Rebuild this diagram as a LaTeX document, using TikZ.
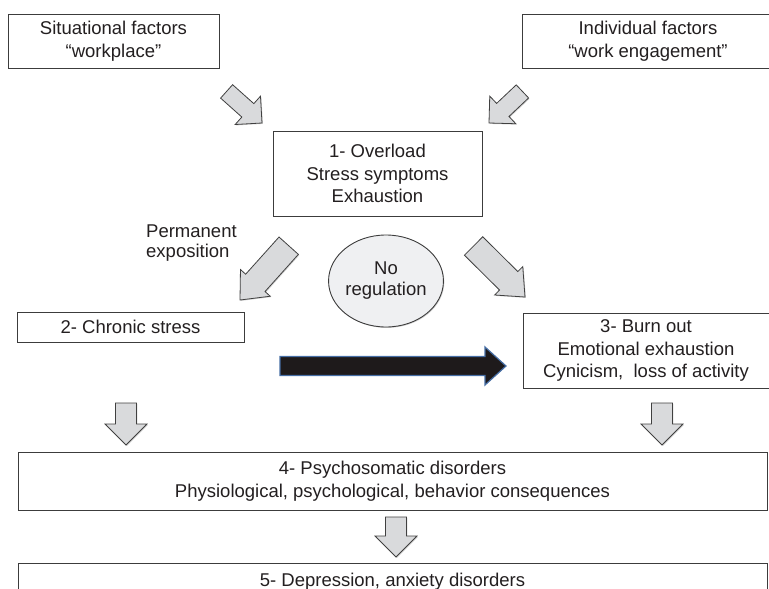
\documentclass[tikz,border=0pt]{standalone}
\usepackage{fontspec}
\setmainfont{Liberation Sans}
\usepackage{tikz}
\usetikzlibrary{calc,shapes.geometric,shadows}
\definecolor{boxline}{RGB}{60,60,60}
\definecolor{textgray}{RGB}{35,31,32}
\definecolor{arrowfill}{RGB}{217,218,220}
\definecolor{ovalfill}{RGB}{239,240,242}
\definecolor{darkarrow}{RGB}{30,26,27}
\definecolor{darkedge}{RGB}{70,110,165}
\tikzset{
  softshadow/.style={drop shadow={shadow xshift=0.9pt, shadow yshift=-0.9pt, opacity=0.3, fill=black!60}},
  stagebox/.style={draw=boxline, line width=0.9pt, fill=white, align=center, text=textgray,
    inner sep=0pt, font=\fontsize{18.5}{22.5}\selectfont, softshadow},
  plainlabel/.style={text=textgray, inner sep=0pt, font=\fontsize{18.5}{20.5}\selectfont},
  grayarrow/.style={draw=black!75, line width=0.8pt, fill=arrowfill, line join=miter, softshadow},
  blackarrow/.style={draw=darkedge, line width=1.2pt, fill=darkarrow, line join=miter},
}
% block arrow: style, tail, tip, half body, half head, head length
\newcommand{\blockarrow}[6]{%
  \coordinate (hb) at ($(#3)!#6!(#2)$);
  \draw[#1] ($(#2)!#4!90:(#3)$) -- ($(hb)!#4!90:(#3)$) -- ($(hb)!#5!90:(#3)$) -- (#3)
    -- ($(hb)!#5!-90:(#3)$) -- ($(hb)!#4!-90:(#3)$) -- ($(#2)!#4!-90:(#3)$) -- cycle;}

\begin{document}
\begin{tikzpicture}[x=1pt,y=-1pt]
  \useasboundingbox (0,0) rectangle (769,589);

  % factors on top
  \node[stagebox, minimum width=211pt, minimum height=54pt] (situ) at (113.5,41) {Situational factors\\“workplace”};
  \node[stagebox, minimum width=252pt, minimum height=54pt] (indiv) at (648,41) {Individual factors\\“work engagement”};

  % stage 1
  \node[stagebox, minimum width=209pt, minimum height=85pt] (overload) at (377.5,173.5) {1- Overload\\Stress symptoms\\Exhaustion};

  % stage 2 and 3
  \node[stagebox, minimum width=227pt, minimum height=30pt] (chronic) at (130.5,327) {2- Chronic stress};
  \node[stagebox, minimum width=246pt, minimum height=75pt] (burnout) at (646,350.5) {3- Burn out\\Emotional exhaustion\\Cynicism,\ \ loss of activity};

  % no regulation oval and side label
  \node[ellipse, draw=boxline, line width=0.9pt, fill=ovalfill, minimum width=108pt, minimum height=92pt,
    align=center, text=textgray, inner sep=0pt, font=\fontsize{18.5}{21}\selectfont, softshadow] (noreg) at (386,281) {No\\regulation};
  \node[plainlabel, align=left, anchor=west] (perm) at (146,243) {Permanent\\exposition};

  % stage 4 and 5
  \node[stagebox, minimum width=749pt, minimum height=58pt] (psycho) at (392.5,481) {4- Psychosomatic disorders\\Physiological, psychological, behavior consequences};
  \node[stagebox, minimum width=749pt, minimum height=37pt] (depress) at (392.5,581.5) {5- Depression, anxiety disorders};

  % arrow ends
  \coordinate (a1s) at (226.6,91.4);  \coordinate (a1e) at (262,123);
  \coordinate (a2s) at (522.4,91.4);  \coordinate (a2e) at (489,123);
  \coordinate (a3s) at (288.7,245.7); \coordinate (a3e) at (240,300);
  \coordinate (a4s) at (473.6,246);   \coordinate (a4e) at (525,297);
  \coordinate (a5s) at (280,366);     \coordinate (a5e) at (506,366);
  \coordinate (a6s) at (126,403);     \coordinate (a6e) at (126,445);
  \coordinate (a7s) at (662,403);     \coordinate (a7e) at (662,445);
  \coordinate (a8s) at (396,517);     \coordinate (a8e) at (396,557);

  % gray block arrows
  \blockarrow{grayarrow}{a1s}{a1e}{9pt}{19pt}{19pt}
  \blockarrow{grayarrow}{a2s}{a2e}{9pt}{19pt}{19pt}
  \blockarrow{grayarrow}{a3s}{a3e}{13pt}{20pt}{23pt}
  \blockarrow{grayarrow}{a4s}{a4e}{13pt}{20pt}{23pt}
  \blockarrow{grayarrow}{a6s}{a6e}{10.5pt}{21pt}{21pt}
  \blockarrow{grayarrow}{a7s}{a7e}{10.5pt}{21pt}{21pt}
  \blockarrow{grayarrow}{a8s}{a8e}{10.5pt}{21pt}{21pt}

  % dark arrow towards burn out
  \blockarrow{blackarrow}{a5s}{a5e}{9.5pt}{19pt}{21pt}
\end{tikzpicture}
\end{document}
